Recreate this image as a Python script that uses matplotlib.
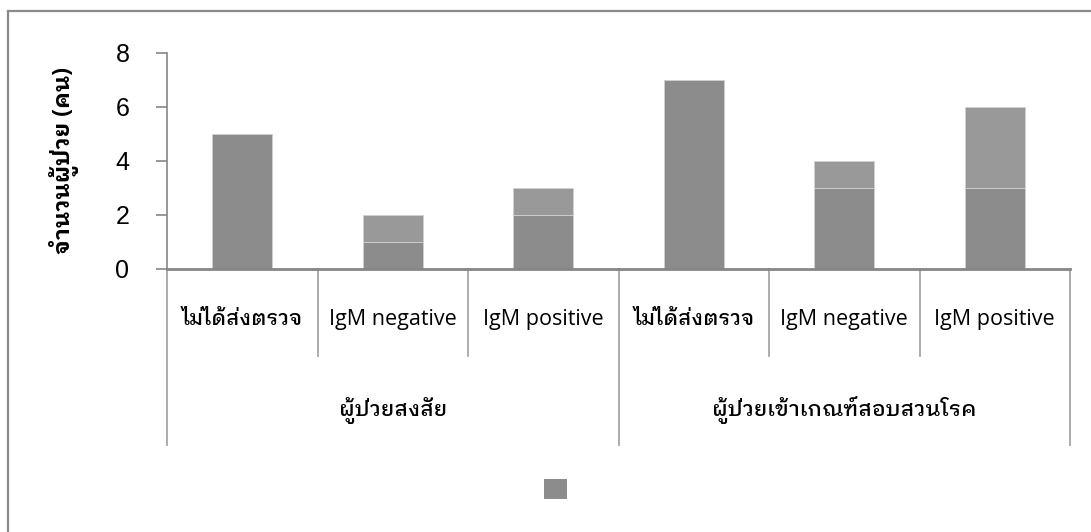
import matplotlib
matplotlib.use("Agg")
import matplotlib.pyplot as plt
from matplotlib.patches import Patch
from matplotlib.lines import Line2D
import matplotlib.transforms as mtransforms

# Patient counts per subgroup
groups = ["ผู้ป่วยสงสัย", "ผู้ป่วยเข้าเกณฑ์สอบสวนโรค"]
subgroups = ["ไม่ได้ส่งตรวจ", "IgM negative", "IgM positive",
             "ไม่ได้ส่งตรวจ", "IgM negative", "IgM positive"]
series_a = [5, 1, 2, 7, 3, 3]
series_b = [0, 1, 1, 0, 1, 3]
y_ticks = [0, 2, 4, 6, 8]
y_label = "จำนวนผู้ป่วย (คน)"

THAI = ["Open Sans", "IBM Plex Sans Thai Looped", "Noto Sans Thai Looped", "DejaVu Sans"]
NUM = ["Liberation Sans", "DejaVu Sans"]
AXIS_GREY = "#868686"
DIV_GREY = "#a6a6a6"
COL_A = "#8c8c8c"
COL_B = "#999999"


def is_latin(s):
    return all(ord(c) < 0x0E00 for c in s)


W, H = 1091, 532
fig = plt.figure(figsize=(W / 100, H / 100), dpi=100)
fig.patch.set_facecolor("white")

# outer frame (top and left edges)
fig.add_artist(Line2D([8 / W, 8 / W], [0, 1 - 11 / H], transform=fig.transFigure,
                      color="#8a8a8a", lw=1.6))
fig.add_artist(Line2D([8 / W, 1.0], [1 - 11 / H, 1 - 11 / H], transform=fig.transFigure,
                      color="#8a8a8a", lw=1.6))

ax_l, ax_r = 167 / W, 1070 / W
ax_b, ax_t = 1 - 269 / H, 1 - 53 / H
ax = fig.add_axes([ax_l, ax_b, ax_r - ax_l, ax_t - ax_b])

x = list(range(len(subgroups)))
ax.bar(x, series_a, width=0.4, color=COL_A, edgecolor="#d0d0d0", linewidth=0.6, zorder=2)
ax.bar(x, series_b, width=0.4, bottom=series_a, color=COL_B, edgecolor="#d0d0d0",
       linewidth=0.6, zorder=2)

ax.set_xlim(-0.5, len(subgroups) - 0.5)
ax.set_ylim(0, 8)
ax.set_yticks(y_ticks)
ax.set_yticklabels([str(v) for v in y_ticks], family=NUM, fontsize=18)
ax.tick_params(axis="y", length=8, width=1.2, color=AXIS_GREY, pad=19)
ax.set_xticks([])

for s in ["top", "right"]:
    ax.spines[s].set_visible(False)
ax.spines["left"].set_color(AXIS_GREY)
ax.spines["left"].set_linewidth(1.2)
ax.spines["bottom"].set_color(AXIS_GREY)
ax.spines["bottom"].set_linewidth(2.0)

ax.set_ylabel(y_label, family=THAI, fontsize=16.5, fontweight="bold", labelpad=26)

# category dividers below the axis
trans = mtransforms.blended_transform_factory(ax.transData, ax.transAxes)
for k in range(len(subgroups) + 1):
    xb = k - 0.5
    low = -0.815 if k % 3 == 0 else -0.403
    ax.add_artist(Line2D([xb, xb], [0, low], transform=trans, color=DIV_GREY,
                         lw=1.3, clip_on=False))

for i, lab in enumerate(subgroups):
    latin = is_latin(lab)
    ax.text(i, -0.235, lab, transform=trans, ha="center", va="center",
            family=THAI, fontsize=15.5 if latin else 15,
            fontweight="normal" if latin else "medium")

for g, lab in enumerate(groups):
    ax.text(3 * g + 1, -0.653, lab, transform=trans, ha="center", va="center",
            family=THAI, fontsize=15.5, fontweight="medium")

fig.legend(handles=[Patch(facecolor=COL_A, edgecolor="none")], labels=[""],
           loc="center", bbox_to_anchor=(555.5 / W, 1 - 490.5 / H),
           frameon=False, fontsize=16.5, handlelength=1.0, handleheight=1.0,
           handletextpad=0.0, borderpad=0.0)

fig.savefig("out.png", dpi=100)
